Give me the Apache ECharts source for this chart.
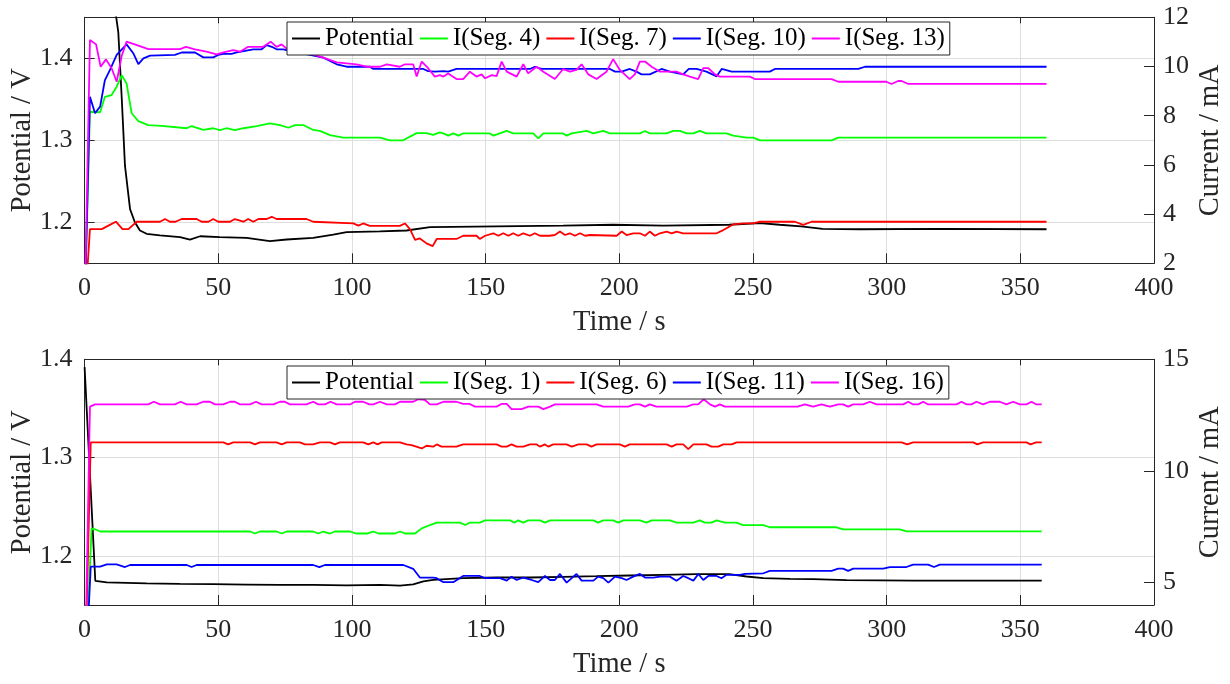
<!DOCTYPE html>
<html>
<head>
<meta charset="utf-8">
<title>Potential and segment currents</title>
<script src="https://cdn.jsdelivr.net/npm/echarts@6/dist/echarts.min.js"></script>
<style>
  html, body { margin: 0; padding: 0; background: #ffffff; }
  #chart { width: 1230px; height: 684px; }
</style>
</head>
<body>
<div id="chart"></div>
<script>
// ---- Upper panel: cell potential (V) and segment currents 4, 7, 10, 13 (mA) vs time (s)
const TIME_TICKS = [0, 50, 100, 150, 200, 250, 300, 350, 400];
const TOP_POT_TICKS = [1.2, 1.3, 1.4];
const TOP_CUR_TICKS = [2, 4, 6, 8, 10, 12];
const TOP_LEGEND = ['Potential', 'I(Seg. 4)', 'I(Seg. 7)', 'I(Seg. 10)', 'I(Seg. 13)'];

const topPotential = [[0,1.62],[4,1.57],[8,1.51],[11.7,1.453],[12.6,1.432],[13.9,1.351],[15.1,1.269],[17,1.216],[18.8,1.2],[20.7,1.19],[23.2,1.186],[28.2,1.184],[35.7,1.182],[39.4,1.179],[43.2,1.183],[50.6,1.182],[60.6,1.181],[69.3,1.177],[75.6,1.179],[85.5,1.181],[93,1.185],[98,1.188],[110.5,1.189],[120.4,1.19],[129.2,1.194],[154.1,1.195],[179,1.196],[197.7,1.197],[216.4,1.196],[241.1,1.197],[252.6,1.199],[260,1.197],[268,1.195],[276,1.192],[290,1.1915],[320,1.192],[359.8,1.1915]];

const topSeg4 = [[0,0],[2,8.16],[5.8,8.14],[7.6,8.77],[10.1,8.84],[12,9.18],[13.9,9.65],[15.7,9.31],[17.6,8.1],[20.1,7.78],[23.8,7.62],[28.8,7.59],[38.2,7.49],[40,7.58],[44.4,7.42],[48.1,7.49],[50.6,7.41],[53.1,7.49],[56.2,7.41],[59.4,7.49],[64.4,7.58],[69.3,7.69],[73.1,7.62],[76.2,7.51],[78.7,7.62],[81.8,7.62],[85.5,7.42],[88,7.38],[91.8,7.21],[96.8,7.11],[110.5,7.11],[114.2,7.0],[119.2,7.0],[124.2,7.29],[127.9,7.29],[130.4,7.22],[132.9,7.32],[134.2,7.28],[136,7.19],[137.9,7.28],[139.8,7.19],[141.6,7.28],[151.6,7.28],[152.9,7.19],[157.9,7.38],[160.3,7.28],[167.8,7.28],[169.7,7.08],[171.6,7.28],[179,7.28],[180.3,7.19],[182.2,7.28],[187.8,7.38],[190.3,7.28],[194,7.38],[196.5,7.28],[207.7,7.28],[209.6,7.38],[211.4,7.28],[217.7,7.28],[220.2,7.38],[222.7,7.38],[225.2,7.28],[227.7,7.28],[230.1,7.38],[232.6,7.28],[240.1,7.28],[242.6,7.19],[247.6,7.11],[250.1,7.11],[252.6,7.0],[279.4,7.0],[281.9,7.11],[359.8,7.11]];

const topSeg7 = [[0,0],[2,3.39],[6.4,3.39],[8.9,3.53],[11.7,3.69],[14.2,3.39],[16.4,3.39],[19.5,3.69],[28.2,3.69],[30.1,3.8],[31.9,3.69],[34,3.69],[36.3,3.8],[41.9,3.8],[43.8,3.69],[46.3,3.69],[48.1,3.8],[50,3.69],[54.4,3.69],[56.2,3.8],[59.4,3.69],[61.2,3.8],[63.1,3.69],[65,3.8],[68.1,3.8],[70,3.89],[71.8,3.8],[83,3.8],[85.5,3.69],[100.5,3.62],[102.4,3.53],[104.2,3.62],[106.7,3.52],[117.9,3.52],[119.8,3.62],[121.7,3.39],[123.6,2.95],[125.4,3.01],[127.9,2.81],[130.2,2.7],[131.7,2.99],[139.1,2.99],[141.6,3.12],[146.6,3.12],[147.8,2.99],[149.8,3.12],[152.9,3.22],[154.7,3.12],[156.6,3.22],[158.5,3.12],[160.3,3.22],[162.2,3.12],[164.1,3.22],[166.6,3.12],[168.4,3.22],[170.3,3.12],[173.9,3.12],[175.9,3.15],[177.8,3.29],[179.7,3.15],[181.5,3.22],[183.4,3.12],[185.3,3.22],[187.2,3.12],[189,3.15],[199,3.12],[200.9,3.29],[202.7,3.15],[205.2,3.22],[207.7,3.22],[209.6,3.12],[211.4,3.29],[213.3,3.12],[215.2,3.22],[217.7,3.29],[219.6,3.22],[221.4,3.29],[223.9,3.22],[236.4,3.22],[238.9,3.35],[242.6,3.58],[246.4,3.62],[250.1,3.62],[252.6,3.69],[265.7,3.69],[268.8,3.56],[271.9,3.69],[359.8,3.69]];

const topSeg10 = [[0,0],[2,8.77],[3.9,8.1],[5.8,8.37],[7.6,9.45],[9.5,9.86],[12,10.47],[15.7,10.9],[18.2,10.54],[20.1,10.1],[22,10.33],[24.5,10.44],[33.8,10.47],[36.3,10.57],[41.3,10.57],[44.4,10.37],[48.1,10.37],[50,10.47],[51.9,10.51],[55,10.51],[56.9,10.57],[63.1,10.7],[66.2,10.7],[68.1,10.87],[70,10.8],[71.8,10.7],[74.3,10.7],[79.3,10.57],[84.3,10.47],[89.3,10.36],[94.3,10.09],[98,9.99],[106.7,9.99],[108,9.9],[126.7,9.9],[128.5,9.81],[131,9.79],[134.2,9.81],[136,9.79],[139.1,9.9],[166.6,9.9],[168.4,9.99],[170.9,9.9],[196.5,9.9],[198.4,9.79],[200.9,9.79],[203.9,9.9],[206.4,9.79],[208.3,9.68],[211.4,9.68],[215.8,9.9],[218.9,9.79],[223.9,9.68],[226,9.9],[228.9,9.9],[232.6,9.79],[236.4,9.6],[238.3,9.9],[242,9.79],[256.3,9.79],[258.2,9.9],[289.4,9.9],[291.9,9.99],[359.8,9.99]];

const topSeg13 = [[0,0],[2,11.08],[4.3,10.9],[6,9.99],[8,10.29],[10.1,9.93],[12,9.38],[13.9,10.44],[15.7,11.01],[20.1,10.85],[23.8,10.71],[35.7,10.71],[37.9,10.8],[41.3,10.7],[45.6,10.6],[49.4,10.49],[51.9,10.57],[55.6,10.67],[58.1,10.6],[61.2,10.8],[66.8,10.8],[69.6,11.01],[71.8,10.8],[73.7,10.9],[76.2,10.67],[80.5,10.53],[84.3,10.53],[89.3,10.36],[94.3,10.17],[101.7,10.09],[105.5,9.99],[110.5,9.99],[113,10.09],[117.9,9.99],[119.8,10.09],[122.9,10.09],[124.2,9.59],[126.1,10.2],[128.5,9.93],[131,9.59],[132.9,9.65],[134.2,9.59],[136,9.72],[139.1,9.49],[141.6,9.49],[144.1,9.79],[146.6,9.59],[148.5,9.68],[149.8,9.52],[152.3,9.65],[154.1,9.61],[156,10.2],[157.9,9.79],[161.6,9.59],[164.1,10.09],[165.9,9.72],[169.1,9.99],[171.6,9.79],[175.9,9.49],[179,9.9],[181.5,9.79],[184,9.86],[185.9,10.09],[188.4,9.68],[191.5,9.49],[195.2,9.79],[197.7,10.3],[200.2,9.86],[203.9,9.49],[205.8,9.68],[207.7,10.2],[209.6,10.2],[212.1,9.99],[215.2,9.79],[221.4,9.79],[223.9,9.68],[226.4,9.59],[229.5,9.49],[231.4,9.93],[233.3,9.93],[235.8,9.68],[237.6,9.59],[248.8,9.59],[250.7,9.49],[279.4,9.49],[281.9,9.38],[299.9,9.38],[301.8,9.29],[304.3,9.41],[305.6,9.41],[308.1,9.29],[359.8,9.29]];

// ---- Lower panel: cell potential (V) and segment currents 1, 6, 11, 16 (mA) vs time (s)
const BOT_POT_TICKS = [1.2, 1.3, 1.4];
const BOT_CUR_TICKS = [5, 10, 15];
const BOT_LEGEND = ['Potential', 'I(Seg. 1)', 'I(Seg. 6)', 'I(Seg. 11)', 'I(Seg. 16)'];

const botPotential = [[0,1.392],[4,1.1746],[8.3,1.173],[23.2,1.172],[35.7,1.1715],[48.1,1.1712],[60.6,1.1708],[73.1,1.1705],[85.5,1.1705],[98,1.17],[110.5,1.1705],[118,1.1698],[122.9,1.171],[126.7,1.174],[130.4,1.1756],[141.6,1.1773],[154.1,1.178],[166.6,1.178],[179,1.1787],[191.5,1.1793],[203.9,1.18],[216.4,1.1807],[228.9,1.1814],[241.1,1.1814],[247.6,1.179],[253.9,1.1773],[263.8,1.1766],[272.5,1.1763],[285,1.1753],[309.9,1.1749],[334.9,1.1749],[358,1.1749]];

const botSeg1 = [[0,0],[2.6,7.43],[3.9,7.39],[5.8,7.29],[61.9,7.29],[63.7,7.2],[65.6,7.29],[71.8,7.29],[73.7,7.2],[75.6,7.29],[85.5,7.29],[87.4,7.2],[89.3,7.29],[91.8,7.2],[93.6,7.29],[99.3,7.29],[101.7,7.2],[105.5,7.2],[108,7.29],[109.9,7.2],[116.1,7.2],[118,7.29],[119.8,7.2],[123.6,7.2],[126.1,7.43],[129.2,7.58],[131.7,7.69],[140.4,7.69],[142.4,7.58],[144.1,7.69],[147.8,7.69],[149.8,7.79],[159.1,7.79],[160.9,7.69],[162.2,7.79],[164.1,7.69],[165.9,7.79],[170.3,7.79],[172.2,7.69],[174.1,7.79],[190.3,7.79],[192.1,7.69],[194,7.79],[197.7,7.79],[199.6,7.69],[201.5,7.79],[207.7,7.79],[210.2,7.69],[212.1,7.79],[218.9,7.79],[221.4,7.69],[227.7,7.69],[230.1,7.79],[232,7.69],[234.5,7.69],[236.4,7.79],[239.5,7.69],[243.8,7.69],[246.3,7.58],[253.9,7.58],[256.3,7.48],[281.2,7.48],[283.7,7.39],[304.9,7.39],[307.4,7.3],[358,7.3]];

const botSeg6 = [[0,0],[2.3,11.28],[51.9,11.28],[53.7,11.19],[55.6,11.28],[61.9,11.28],[63.7,11.19],[65.6,11.28],[71.8,11.28],[73.7,11.19],[75.6,11.28],[80.5,11.28],[82.4,11.19],[85.5,11.19],[88,11.28],[91.8,11.28],[93.6,11.19],[95.5,11.28],[104.2,11.28],[106.1,11.19],[108,11.28],[109.6,11.19],[111.1,11.28],[118,11.28],[120.4,11.19],[122.3,11.16],[126.1,11.01],[127.9,11.13],[130.4,11.09],[131.7,11.19],[133.5,11.09],[139.1,11.09],[141.6,11.19],[154.1,11.19],[156,11.09],[157.9,11.09],[159.7,11.19],[161.6,11.09],[164.1,11.09],[166.6,11.19],[169.1,11.19],[170.3,11.09],[172.2,11.19],[173.4,11.09],[175.3,11.19],[180.3,11.19],[182.2,11.09],[184.7,11.19],[187.8,11.19],[189.6,11.09],[191.5,11.19],[200.2,11.19],[202.1,11.09],[203.9,11.19],[217.7,11.19],[219.6,11.09],[221.4,11.19],[223.9,11.19],[225.8,10.98],[227.7,11.19],[232.6,11.19],[234.5,11.09],[237,11.09],[238.9,11.19],[242,11.19],[243.9,11.28],[305.6,11.28],[307.7,11.19],[309.9,11.28],[332.4,11.28],[333.9,11.19],[336.1,11.28],[352.3,11.28],[353.8,11.19],[355.9,11.28],[358,11.28]];

const botSeg11 = [[0,0],[2.3,5.72],[5.8,5.72],[8.3,5.82],[12,5.82],[15.1,5.7],[17,5.79],[38.2,5.79],[40,5.7],[41.9,5.79],[85.5,5.79],[87.8,5.7],[89.9,5.79],[119.2,5.79],[122.9,5.62],[125.4,5.23],[130.4,5.23],[131.7,5.2],[134.2,5.02],[137.9,5.02],[141.6,5.3],[147.8,5.3],[149.8,5.2],[155.4,5.2],[157.9,5.09],[159.7,5.27],[161.6,5.12],[164.1,5.23],[167.2,5.12],[169.7,5.02],[172.2,5.3],[174.1,5.12],[175.9,5.12],[177.8,5.39],[180.3,5.0],[182.2,5.2],[184,5.39],[185.9,5.09],[190.3,5.09],[192.1,5.27],[194,5.2],[195.9,5.0],[198.4,5.27],[200.9,5.2],[202.7,5.12],[205.2,5.27],[207.7,5.39],[209.6,5.23],[212.7,5.23],[215.2,5.27],[218.9,5.27],[221.4,5.09],[223.9,5.3],[225.8,5.2],[227.7,5.09],[229.6,5.39],[231.4,5.12],[233.3,5.3],[236.4,5.3],[238.2,5.2],[240.1,5.35],[245.1,5.35],[247,5.39],[253.9,5.42],[256.3,5.53],[279.4,5.53],[281.9,5.63],[283.7,5.63],[285.6,5.53],[287.5,5.63],[298.7,5.63],[301.2,5.7],[307.4,5.7],[309.9,5.81],[315.5,5.81],[317.7,5.7],[319.9,5.81],[358,5.81]];

const botSeg16 = [[0,0],[2,12.88],[3.9,12.98],[23.8,12.98],[25.9,13.1],[28.2,12.98],[33.8,12.98],[35.9,13.1],[38.2,12.98],[41.9,12.98],[44.4,13.1],[46.9,13.1],[48.8,12.98],[51.9,12.98],[54.4,13.1],[56.2,13.1],[58.1,12.98],[61.9,12.98],[64.1,13.1],[66.2,12.98],[70.6,12.98],[73.1,13.1],[74.9,13.1],[76.8,12.98],[83,12.98],[85.5,13.1],[87.4,12.98],[89.9,12.98],[92,13.1],[94.3,12.98],[99.3,12.98],[101.1,13.1],[104.2,13.1],[106.5,12.98],[108,12.98],[110.5,13.1],[113,12.98],[116.1,12.98],[118,13.1],[122.9,13.1],[124.8,13.21],[127.3,13.18],[129.2,12.98],[131.7,12.98],[134.2,13.1],[139.1,13.1],[141.6,13.0],[144.1,13.0],[146,12.88],[154.1,12.88],[155.9,13.0],[157.9,13.0],[159.7,12.77],[163.4,12.77],[166,12.88],[169.7,12.88],[171.6,12.77],[174.1,12.88],[175.9,12.98],[191.5,12.98],[194,12.88],[203.3,12.88],[205.8,12.98],[207.7,12.98],[209.6,12.88],[211.4,12.98],[213.9,12.88],[225.2,12.88],[227.7,12.98],[229.5,12.98],[231.6,13.21],[233.9,12.98],[235.8,12.88],[237.6,12.98],[239.5,12.88],[259.3,12.88],[262.6,12.88],[266.7,12.88],[269.4,12.98],[272.5,12.88],[275.6,12.98],[278.8,12.88],[281.9,12.98],[283.7,12.98],[285.6,12.88],[287.5,12.98],[291.2,12.98],[293.7,13.1],[296.2,12.98],[306.2,12.98],[308.1,13.1],[309.9,12.98],[311.8,12.98],[313.7,13.1],[315.5,12.98],[326.1,12.98],[328,13.1],[329.9,12.98],[331.7,12.98],[333.6,13.1],[336.1,12.98],[338.6,13.1],[342.3,13.1],[344.8,12.98],[347.3,13.1],[349.8,12.98],[352.3,12.98],[354.2,13.1],[356,12.98],[358,12.98]];

// ---- Styling
const FONT = 'Liberation Serif';
const INK = '#262626';
const GRID_LINE = '#dedede';
const COLORS = ['#000000', '#00ff00', '#ff0000', '#0000ff', '#ff00ff'];

const tickFont = { fontFamily: FONT, fontSize: 26, color: INK };
const nameFont = { fontFamily: FONT, fontSize: 28.5, color: INK };

function timeAxes(gridIndex) {
  const common = {
    gridIndex, type: 'value', min: TIME_TICKS[0], max: TIME_TICKS[TIME_TICKS.length - 1],
    interval: TIME_TICKS[1] - TIME_TICKS[0],
    axisLine: { show: true, onZero: false, lineStyle: { color: INK, width: 1 } },
    axisTick: { show: true, inside: true, length: 10, lineStyle: { color: INK } }
  };
  return [
    Object.assign({}, common, {
      position: 'bottom',
      name: 'Time / s', nameLocation: 'middle', nameGap: 45, nameTextStyle: nameFont,
      nameMoveOverlap: false,
      axisLabel: Object.assign({ margin: 12 }, tickFont),
      splitLine: { show: true, lineStyle: { color: GRID_LINE, width: 1 } }
    }),
    Object.assign({}, common, {
      position: 'top',
      axisTick: { show: true, inside: true, length: 6, lineStyle: { color: INK } },
      axisLabel: { show: false },
      splitLine: { show: false }
    })
  ];
}

function potentialAxis(gridIndex, min, max, ticks) {
  return {
    gridIndex, type: 'value', position: 'left', min, max,
    name: 'Potential / V', nameLocation: 'middle', nameGap: 48, nameTextStyle: nameFont,
    nameMoveOverlap: false,
    axisLine: { show: true, onZero: false, lineStyle: { color: INK, width: 1 } },
    axisTick: { show: true, inside: true, length: 10, customValues: ticks, lineStyle: { color: INK } },
    axisLabel: Object.assign({ margin: 12, customValues: ticks, formatter: v => v.toFixed(1) }, tickFont),
    splitLine: { show: true, lineStyle: { color: GRID_LINE, width: 1 } }
  };
}

function currentAxis(gridIndex, min, max, ticks) {
  return {
    gridIndex, type: 'value', position: 'right', min, max,
    name: 'Current / mA', nameLocation: 'middle', nameGap: 42, nameTextStyle: nameFont,
    nameMoveOverlap: false,
    axisLine: { show: true, onZero: false, lineStyle: { color: INK, width: 1 } },
    axisTick: { show: true, inside: true, length: 10, customValues: ticks, lineStyle: { color: INK } },
    axisLabel: Object.assign({ margin: 9, customValues: ticks, formatter: v => String(v) }, tickFont),
    splitLine: { show: false }
  };
}

function lineSeries(name, data, color, xAxisIndex, yAxisIndex) {
  return {
    type: 'line', name, data, xAxisIndex, yAxisIndex,
    symbol: 'none', clip: true, silent: true,
    lineStyle: { color, width: 1.8 }, itemStyle: { color },
    z: 3
  };
}

function legendBox(top, names) {
  return {
    top, left: 287, orient: 'horizontal', data: names,
    icon: 'rect', itemWidth: 28, itemHeight: 2, itemGap: 6,
    padding: [4, 5, 4, 5],
    backgroundColor: '#ffffff', borderColor: INK, borderWidth: 1, borderRadius: 0,
    textStyle: { fontFamily: FONT, fontSize: 25, color: '#000000' },
    selectedMode: false
  };
}

const chart = echarts.init(document.getElementById('chart'), null, { renderer: 'canvas', width: 1230, height: 684 });

const option = {
  backgroundColor: '#ffffff',
  animation: false,
  grid: [
    { left: 84.6, right: 76, top: 17.3, height: 246, show: false, outerBoundsMode: 'none' },
    { left: 84.6, right: 76, top: 359.3, height: 245.7, show: false, outerBoundsMode: 'none' }
  ],
  legend: [legendBox(22, TOP_LEGEND), legendBox(366, BOT_LEGEND)],
  xAxis: [].concat(timeAxes(0), timeAxes(1)),
  yAxis: [
    potentialAxis(0, 1.15, 1.45, TOP_POT_TICKS),
    currentAxis(0, TOP_CUR_TICKS[0], TOP_CUR_TICKS[TOP_CUR_TICKS.length - 1], TOP_CUR_TICKS),
    potentialAxis(1, 1.15, 1.4, BOT_POT_TICKS),
    currentAxis(1, 4, 15, BOT_CUR_TICKS)
  ],
  series: [
    lineSeries(TOP_LEGEND[0], topPotential, COLORS[0], 0, 0),
    lineSeries(TOP_LEGEND[1], topSeg4, COLORS[1], 0, 1),
    lineSeries(TOP_LEGEND[2], topSeg7, COLORS[2], 0, 1),
    lineSeries(TOP_LEGEND[3], topSeg10, COLORS[3], 0, 1),
    lineSeries(TOP_LEGEND[4], topSeg13, COLORS[4], 0, 1),
    lineSeries(BOT_LEGEND[0], botPotential, COLORS[0], 2, 2),
    lineSeries(BOT_LEGEND[1], botSeg1, COLORS[1], 2, 3),
    lineSeries(BOT_LEGEND[2], botSeg6, COLORS[2], 2, 3),
    lineSeries(BOT_LEGEND[3], botSeg11, COLORS[3], 2, 3),
    lineSeries(BOT_LEGEND[4], botSeg16, COLORS[4], 2, 3)
  ]
};

chart.setOption(option);
</script>
</body>
</html>
